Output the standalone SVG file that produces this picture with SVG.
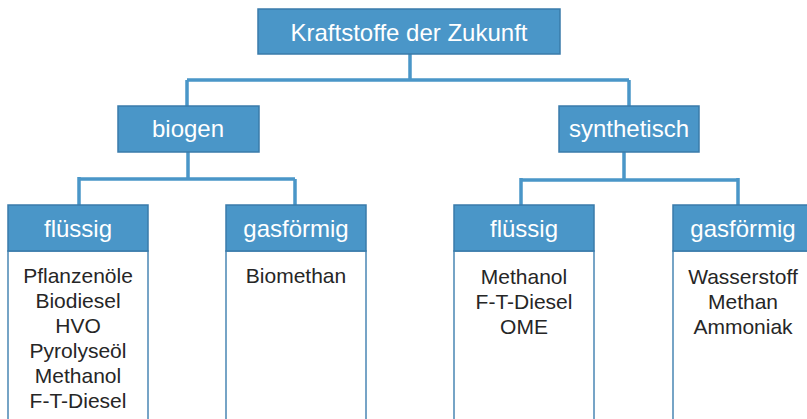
<svg xmlns="http://www.w3.org/2000/svg" width="807" height="419" viewBox="0 0 807 419">
<style>
.hd{fill:#4A96C8;stroke:#3A7BAA;stroke-width:1.5}
.bd{fill:#fff;stroke:#4A86B4;stroke-width:1.5}
.ht{font-family:"Liberation Sans",Arial,sans-serif;fill:#fff;text-anchor:middle;font-size:24px}
.bt{font-family:"Liberation Sans",Arial,sans-serif;fill:#262626;text-anchor:middle;font-size:21px}
.cn{fill:none;stroke:#4A96C8;stroke-width:3.5}
</style>
<rect width="807" height="419" fill="#fff"/>
<g id="connectors">
<path class="cn" d="M410 54V80M187 80H629M187 80V106M629 80V106"/>
<path class="cn" d="M188 152V179M79 179H295M79 177V205M295 179V205"/>
<path class="cn" d="M624 152V180M521 180H738M521 178V205M738 178V205"/>
</g>
<g id="root">
<rect class="hd" x="258" y="9" width="302" height="45"/>
<text class="ht" x="409" y="41">Kraftstoffe der Zukunft</text>
</g>
<g id="biogen">
<rect class="hd" x="118" y="106" width="141" height="46"/>
<text class="ht" x="188" y="137">biogen</text>
</g>
<g id="synthetisch">
<rect class="hd" x="559" y="106" width="140" height="46"/>
<text class="ht" x="629" y="137">synthetisch</text>
</g>
<g id="bio-fluessig">
<rect class="bd" x="8" y="251" width="140" height="180"/>
<rect class="hd" x="8" y="205" width="140" height="46"/>
<text class="ht" x="78" y="237">flüssig</text>
<text class="bt" x="78" y="283">Pflanzenöle</text>
<text class="bt" x="78" y="308">Biodiesel</text>
<text class="bt" x="78" y="333">HVO</text>
<text class="bt" x="78" y="358">Pyrolyseöl</text>
<text class="bt" x="78" y="383">Methanol</text>
<text class="bt" x="78" y="408">F-T-Diesel</text>
</g>
<g id="bio-gasfoermig">
<rect class="bd" x="226" y="251" width="140" height="180"/>
<rect class="hd" x="226" y="205" width="140" height="46"/>
<text class="ht" x="296" y="237">gasförmig</text>
<text class="bt" x="296" y="283">Biomethan</text>
</g>
<g id="syn-fluessig">
<rect class="bd" x="454" y="251" width="140" height="180"/>
<rect class="hd" x="454" y="205" width="140" height="46"/>
<text class="ht" x="524" y="237">flüssig</text>
<text class="bt" x="524" y="284">Methanol</text>
<text class="bt" x="524" y="309">F-T-Diesel</text>
<text class="bt" x="524" y="334">OME</text>
</g>
<g id="syn-gasfoermig">
<rect class="bd" x="673" y="251" width="140" height="180"/>
<rect class="hd" x="673" y="205" width="140" height="46"/>
<text class="ht" x="743" y="237">gasförmig</text>
<text class="bt" x="743" y="284">Wasserstoff</text>
<text class="bt" x="743" y="309">Methan</text>
<text class="bt" x="743" y="334">Ammoniak</text>
</g>
</svg>
